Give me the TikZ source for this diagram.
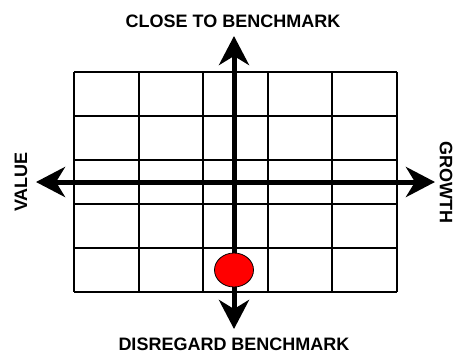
\documentclass[tikz,border=0pt]{standalone}
\usepackage{fontspec}
\setmainfont{Liberation Sans}
\usetikzlibrary{arrows.meta,shapes.geometric}

\tikzset{
  gridline/.style={line width=2pt, black},
  axis/.style={line width=5pt, {Stealth[length=29pt,width=30pt,inset=9pt]}-{Stealth[length=29pt,width=30pt,inset=9pt]}},
  axislabel/.style={font=\fontsize{18}{20}\selectfont\bfseries, inner sep=0pt},
  marker/.style={ellipse, draw=black, line width=0.8pt, fill=red, minimum width=39pt, minimum height=34pt, inner sep=0pt}
}

\begin{document}
\begin{tikzpicture}[x=1pt,y=-1pt]
  \useasboundingbox (0,0) rectangle (454,354);

  % Grid
  \foreach \gx in {74,138.6,203.2,267.8,332.4,397}
    \draw[gridline] (\gx,72) -- (\gx,292);
  \foreach \gy in {72,116,160,204,248,292}
    \draw[gridline] (74,\gy) -- (397,\gy);

  % Axis ends
  \coordinate (top) at (234,36);
  \coordinate (bottom) at (234,329);
  \coordinate (left) at (36,182);
  \coordinate (right) at (435,182);

  % Axes
  \draw[axis] (bottom) -- (top);
  \draw[axis] (left) -- (right);

  % Point
  \node[marker] (pick) at (234,270) {};

  % Labels
  \node[axislabel] (close) at (233,21.5) {CLOSE TO BENCHMARK};
  \node[axislabel] (disregard) at (234,344) {DISREGARD BENCHMARK};
  \node[axislabel, rotate=90] (value) at (21,182) {VALUE};
  \node[axislabel, rotate=-90] (growth) at (446,182) {GROWTH};
\end{tikzpicture}
\end{document}
